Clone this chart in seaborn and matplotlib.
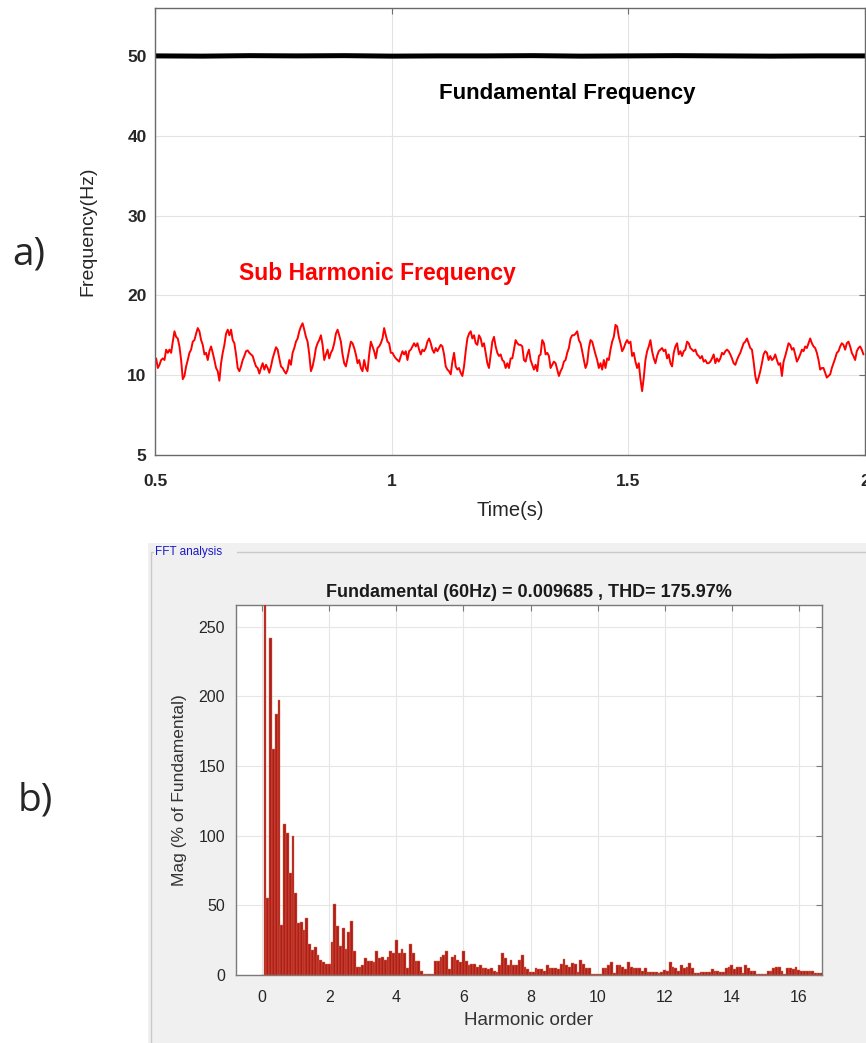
import numpy as np
import pandas as pd
import matplotlib
matplotlib.use("Agg")
import matplotlib.pyplot as plt
from matplotlib.patches import Rectangle
from matplotlib.lines import Line2D
import seaborn as sns

# ---- a) frequency traces ----
# sub harmonic trace, sampled every t_step seconds from t_start
t_start = 0.4954
t_step = 0.003516
sub_part1 = [10.7, 11.5, 12.1, 10.9, 11.3, 11.9, 12.1, 11.9, 13.2, 12.8, 13.2, 12.8, 14.2, 15.5, 14.8, 14.6,
             13.6, 11.9, 9.5, 9.9, 11.1, 11.9, 12.8, 13.2, 14.2, 14.4, 15.2, 15.9, 15.5, 14.4, 13.8, 12.6,
             12.8, 11.9, 13.0, 13.6, 12.8, 11.9, 10.9, 10.5, 9.3, 11.5, 12.8, 13.8, 15.2, 15.7, 15.0, 15.7,
             14.4, 14.0, 12.6, 10.9, 10.5, 11.1, 11.9, 12.4, 13.0, 13.1, 12.8, 12.6, 12.4, 11.7, 11.1, 10.9,
             10.2, 10.9, 11.5, 10.7, 11.3, 10.9, 10.3, 11.1, 12.1, 12.8, 13.5, 13.2, 12.1, 11.1, 10.9, 10.5,
             10.2, 10.7, 11.9, 11.3, 12.8, 13.4, 14.2, 14.6, 15.5, 16.1, 16.5, 15.7, 14.8, 14.2, 12.6, 10.5,
             11.1, 12.1, 13.4, 14.0, 14.4, 15.0, 13.8, 11.9, 12.6, 13.2, 12.1, 12.8, 13.2, 14.0]
sub_part2 = [15.2, 15.7, 15.0, 14.2, 12.6, 11.5, 11.1, 12.1, 13.2, 14.2, 14.0, 13.4, 12.6, 11.5, 11.9, 10.9,
             10.5, 11.9, 10.9, 10.5, 12.6, 14.2, 13.6, 13.0, 12.1, 13.4, 13.6, 14.0, 14.6, 15.9, 15.0, 14.2,
             14.0, 12.8, 12.8, 12.4, 12.1, 11.9, 11.7, 12.4, 13.0, 12.6, 13.0, 11.9, 13.0, 13.2, 13.6, 14.0,
             13.6, 14.0, 13.2, 12.6, 13.2, 13.0, 13.4, 14.2, 14.6, 14.0, 13.2, 12.8, 13.4, 13.0, 13.4, 13.8,
             13.6, 12.6, 11.1, 10.7, 10.5, 10.1, 11.7, 12.8, 11.1, 10.7, 10.9, 10.3, 9.9, 11.1, 13.0, 14.6,
             15.2, 15.5, 14.6, 15.0, 14.0, 13.8, 15.0, 14.6, 13.6, 14.0, 12.8, 11.5, 10.9, 12.6, 14.2, 14.8,
             13.6, 12.8, 12.4, 12.6, 11.9, 11.7, 10.9, 11.5, 10.9, 12.1, 12.1, 13.2]
sub_part3 = [14.4, 14.0, 13.8, 13.8, 13.6, 11.9, 11.7, 12.6, 13.2, 11.9, 11.3, 10.7, 11.3, 10.5, 12.4, 12.6,
             14.4, 14.0, 12.6, 12.8, 12.4, 10.9, 11.3, 11.7, 11.5, 10.7, 9.9, 10.5, 10.9, 11.7, 11.9, 12.8,
             13.4, 14.6, 15.0, 15.0, 15.2, 15.5, 14.4, 14.0, 13.0, 11.9, 10.9, 11.5, 13.4, 14.4, 14.2, 13.4,
             12.6, 11.9, 10.9, 11.5, 10.7, 11.9, 10.9, 12.1, 11.9, 13.2, 14.2, 14.8, 16.3, 16.1, 14.8, 14.0,
             13.0, 13.4, 14.0, 14.4, 14.0, 14.2, 12.4, 12.8, 11.7, 10.9, 11.5, 9.5, 8.0, 9.7, 11.9, 13.0,
             13.6, 14.4, 13.0, 12.1, 11.5, 12.4, 13.0, 13.2, 13.4, 13.0, 13.2, 12.1, 12.6, 11.5, 11.1, 12.8,
             13.6, 14.0, 12.6, 13.0, 12.4, 13.0, 13.2, 14.2, 14.0, 13.4, 13.2]
sub_part4 = [13.0, 13.2, 12.6, 12.4, 12.1, 12.4, 11.7, 11.9, 11.5, 11.5, 11.7, 12.1, 12.6, 11.5, 12.1, 11.7,
             12.1, 12.8, 12.6, 13.0, 13.2, 13.0, 12.6, 12.1, 11.5, 11.3, 11.9, 12.4, 12.8, 13.4, 14.0, 14.2,
             14.6, 14.0, 13.4, 13.2, 11.7, 9.9, 9.0, 9.7, 10.5, 11.5, 12.6, 13.0, 12.8, 11.9, 12.4, 11.9,
             12.1, 12.6, 11.9, 11.3, 11.5, 9.9, 11.7, 12.4, 13.2, 14.0, 13.8, 13.2, 13.4, 12.6, 11.7, 12.1,
             12.6, 13.2, 13.0, 13.6, 13.4, 14.0, 14.6, 14.0, 13.6, 13.4, 12.8, 11.9, 10.7, 10.9, 10.9, 10.3,
             9.7, 9.9, 10.1, 10.9, 11.5, 12.1, 12.8, 13.0, 13.6, 14.0, 13.8, 13.2, 14.0, 14.2, 13.6, 12.8,
             12.4, 11.9, 13.0, 13.4, 13.6, 13.2, 12.6]

fund_time = [0.5, 0.6, 0.7, 0.8, 0.9, 1.0, 1.1, 1.2, 1.3, 1.4, 1.5, 1.6, 1.7, 1.8, 1.9, 2.0]
fund_freq = [50.0, 49.97, 50.03, 50.0, 50.03, 49.97, 50.0, 50.0, 50.03, 49.97, 50.0, 50.03, 50.0, 49.97, 50.0, 50.0]

freq_ticks = [0, 10, 20, 30, 40, 50]
freq_ticklabels = ["5", "10", "20", "30", "40", "50"]
time_ticks = [0.5, 1, 1.5, 2]
time_ticklabels = ["0.5", "1", "1.5", "2"]

# ---- b) FFT spectrum, bins of 1/12 harmonic order ----
harm_step = 1 / 12
fft_mag = [0, 280, 55, 242, 162, 187, 197, 36, 108, 102, 73, 100,
           59, 37, 38, 32, 41, 22, 18, 20, 14, 11, 9, 8,
           8, 24, 51, 35, 21, 34, 19, 31, 39, 17, 6, 6,
           7, 12, 10, 10, 9, 17, 12, 13, 11, 13, 17, 16,
           25, 16, 19, 16, 5, 22, 16, 10, 10, 3, 0.5, 0.5,
           0.5, 1, 10, 10, 13, 14, 17, 4, 13, 14, 11, 9,
           17, 10, 7, 8, 8, 6, 7, 5, 5, 4, 5, 3,
           2.5, 7, 15.5, 12, 7, 11, 7, 7, 11, 14, 6, 4,
           2, 2.5, 5, 4, 4, 3, 7, 5, 5, 5, 4, 8,
           11.5, 7, 6, 8.5, 8, 2.5, 11, 8, 5, 5, 0.5, 0.5,
           0.5, 0.5, 5, 5, 7, 9, 1.5, 7, 7, 6, 4, 9,
           6, 5, 5, 5, 3, 5, 2.5, 2.5, 2.5, 2, 1.5, 2.5,
           3.5, 3, 9, 6, 5, 3, 7, 5, 6, 8.5, 5, 1.5,
           1.5, 2, 2.5, 2.5, 2.5, 4.5, 3, 3, 2.5, 2, 5, 6,
           7, 4, 5.5, 5.5, 1.5, 7, 5, 3, 3, 0.5, 0.5, 0.5,
           0.5, 3, 3, 5, 6, 6, 3, 0.5, 5, 5, 4, 6,
           3.5, 3, 3, 3, 3, 3, 1.5, 1.5, 1.5]
harm_ticks = [0, 2, 4, 6, 8, 10, 12, 14, 16]
mag_ticks = [0, 50, 100, 150, 200, 250]

fft_title = "Fundamental (60Hz) = 0.009685 , THD= 175.97%"

sns.set_style("white")
plt.rcParams['font.family'] = ['Liberation Sans', 'DejaVu Sans']

W, H = 866, 1043
fig = plt.figure(figsize=(W / 100, H / 100), dpi=100)
fig.patch.set_facecolor("white")


def fx(px):
    return px / W


def fy(py):
    return 1 - py / H


# gray FFT panel with a group box frame (drawn beneath the axes)
fig.patches.append(Rectangle((fx(148), 0), 1 - fx(148), fy(543), transform=fig.transFigure,
                             facecolor="#f0f0f0", edgecolor="none", zorder=-3))
box_col = "#c9c9c9"
for xs, ys in [([fx(151), fx(153)], [fy(552), fy(552)]),
               ([fx(237), 1], [fy(552), fy(552)]),
               ([fx(151), fx(151)], [fy(552), 0])]:
    fig.lines.append(Line2D(xs, ys, transform=fig.transFigure, color=box_col, lw=1, zorder=-2))
fig.text(fx(155), fy(552), "FFT analysis", color="#1a1acc", fontsize=8.5, va="center", ha="left")

# ---- top chart ----
ax1 = fig.add_axes([fx(155), fy(455), fx(865) - fx(155), fy(8) - fy(455)])
sub_freq = sub_part1 + sub_part2 + sub_part3 + sub_part4
sub_time = t_start + t_step * np.arange(len(sub_freq))
sns.lineplot(x=fund_time, y=fund_freq, ax=ax1, color="black", linewidth=3.6, estimator=None, sort=False)
sns.lineplot(x=sub_time, y=sub_freq, ax=ax1, color="#ff0000", linewidth=1.4, estimator=None, sort=False)
ax1.set_xlim(0.5, 2.0)
ax1.set_ylim(0, 56)
ax1.set_xticks(time_ticks)
ax1.set_xticklabels(time_ticklabels)
ax1.set_yticks(freq_ticks)
ax1.set_yticklabels(freq_ticklabels)
ax1.grid(True, color="#e3e3e3", linewidth=0.8)
ax1.tick_params(direction="in", top=True, right=True, length=4, width=0.8, labelsize=12.5,
                colors="#6e6e6e", labelcolor="#262626")
ax1.tick_params(axis="x", pad=14)
ax1.tick_params(axis="y", pad=6)
for lbl in ax1.get_xticklabels() + ax1.get_yticklabels():
    lbl.set_fontweight("bold")
for sp in ax1.spines.values():
    sp.set_color("#6a6a6a")
    sp.set_linewidth(1.0)
ax1.set_xlabel("Time(s)", fontsize=14.5, color="#262626", labelpad=8)
ax1.set_ylabel("Frequency(Hz)", fontsize=14, color="#262626", labelpad=22)
ax1.text(1.1, 45.3, "Fundamental Frequency", fontsize=16, fontweight="bold", color="black",
         ha="left", va="center")
ax1.text(0.678, 22.8, "Sub Harmonic Frequency", fontsize=16.5, fontweight="bold", color="#ff0000",
         ha="left", va="center")

# ---- bottom chart ----
ax2 = fig.add_axes([fx(236), fy(975), fx(822) - fx(236), fy(605) - fy(975)])
ax2.set_facecolor("white")
fft_df = pd.DataFrame({"order": harm_step * np.arange(len(fft_mag)), "mag": fft_mag})
edges = [harm_step * (k - 0.5) for k in range(len(fft_mag) + 1)]
sns.histplot(data=fft_df, x="order", weights="mag", bins=edges, ax=ax2, color="#b01e18",
             edgecolor="#e0704f", linewidth=0.3, alpha=1.0, zorder=3)
ax2.set_xlim(-0.78, 16.69)
ax2.set_ylim(0, 265.5)
ax2.set_xticks(harm_ticks)
ax2.set_yticks(mag_ticks)
ax2.grid(True, color="#e6e6e6", linewidth=0.8, zorder=0)
ax2.set_axisbelow(True)
ax2.tick_params(direction="in", top=True, right=True, length=4, width=0.8, labelsize=11.5,
                colors="#7a7a7a", labelcolor="#262626", pad=8)
ax2.tick_params(axis="x", pad=11)
for sp in ax2.spines.values():
    sp.set_color("#7a7a7a")
    sp.set_linewidth(1.0)
ax2.set_xlabel("Harmonic order", fontsize=13.5, color="#333333", labelpad=5)
ax2.set_ylabel("Mag (% of Fundamental)", fontsize=12.5, color="#333333", labelpad=8)
ax2.set_title(fft_title, fontsize=13, fontweight="bold", color="#1a1a1a", pad=6)

# panel letters
fig.text(fx(12), fy(255), "a)", fontsize=28, family=["Open Sans", "DejaVu Sans"], va="center", ha="left")
fig.text(fx(18), fy(800), "b)", fontsize=28, family=["Open Sans", "DejaVu Sans"], va="center", ha="left")

fig.savefig("out.png", dpi=100, facecolor=fig.get_facecolor())
